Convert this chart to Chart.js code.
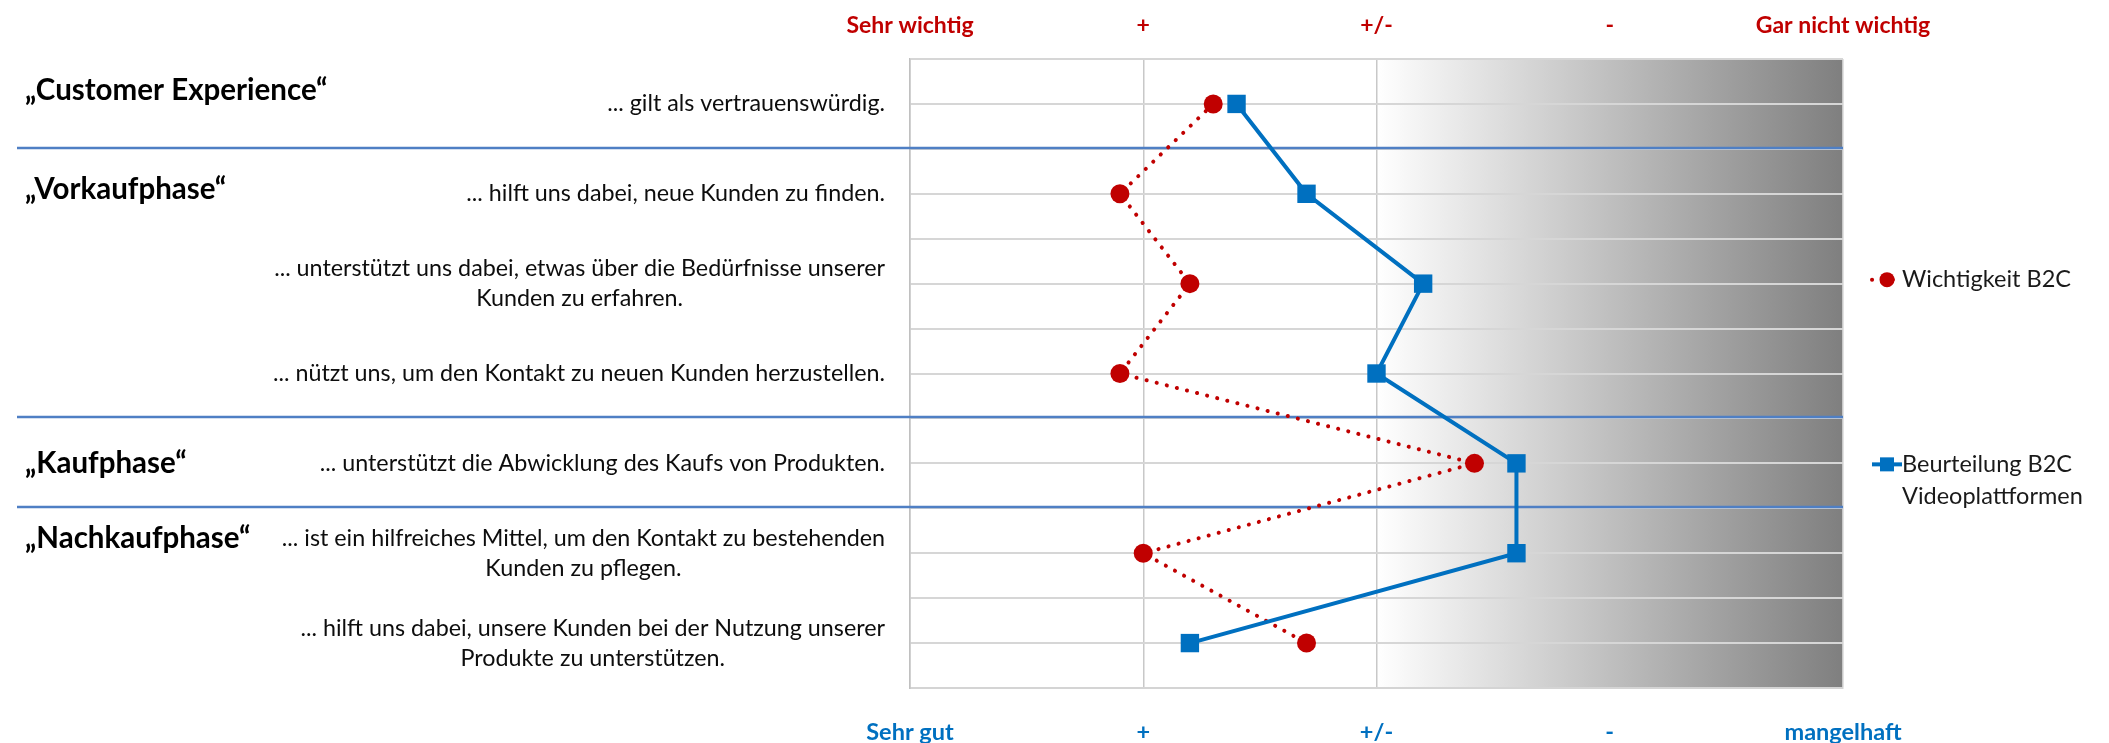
<!DOCTYPE html>
<html lang="de">
<head>
    <meta charset="UTF-8">
    <title>B2C Videoplattformen</title>
    <style>
        html, body { margin: 0; padding: 0; background: #fff; }
        #chart { display: block; }
    </style>
</head>
<body>
    <canvas id="chart" width="2109" height="743"></canvas>
    <script src="https://cdn.jsdelivr.net/npm/chart.js"></script>
    <script>
        // Aussagen, mehrzeilige als Array
        const aussagen = [
            '... gilt als vertrauenswürdig.',
            '... hilft uns dabei, neue Kunden zu finden.',
            ['... unterstützt uns dabei, etwas über die Bedürfnisse unserer', 'Kunden zu erfahren.'],
            '... nützt uns, um den Kontakt zu neuen Kunden herzustellen.',
            '... unterstützt die Abwicklung des Kaufs von Produkten.',
            ['... ist ein hilfreiches Mittel, um den Kontakt zu bestehenden', 'Kunden zu pflegen.'],
            ['... hilft uns dabei, unsere Kunden bei der Nutzung unserer', 'Produkte zu unterstützen.']
        ];
        const phasen = ['„Customer Experience“', '„Vorkaufphase“', '„Kaufphase“', '„Nachkaufphase“'];
        const phasenStart = [0, 1, 4, 5];

        // 1 = Sehr wichtig / Sehr gut ... 5 = Gar nicht wichtig / mangelhaft
        const wichtigkeit = [2.3, 1.9, 2.2, 1.9, 3.42, 2.0, 2.7];
        const beurteilung = [2.4, 2.7, 3.2, 3.0, 3.6, 3.6, 2.2];

        const skalaOben = ['Sehr wichtig', '+', '+/-', '-', 'Gar nicht wichtig'];
        const skalaUnten = ['Sehr gut', '+', '+/-', '-', 'mangelhaft'];
        const serienNamen = [['Wichtigkeit B2C'], ['Beurteilung B2C', 'Videoplattformen']];

        const ROT = '#C00000';
        const BLAU = '#0070C0';

        const punkte = werte => werte.map((v, i) => ({ x: v, y: i }));

        // Grauverlauf ab "+/-" bis zum rechten Rand
        const verlaufPlugin = {
            id: 'verlauf',
            beforeDraw(chart) {
                const { ctx, chartArea } = chart;
                const x0 = chart.scales.x.getPixelForValue(3);
                const g = ctx.createLinearGradient(x0, 0, chartArea.right, 0);
                g.addColorStop(0, '#ffffff');
                g.addColorStop(1, '#7f7f7f');
                ctx.save();
                ctx.fillStyle = g;
                ctx.fillRect(x0, chartArea.top, chartArea.right - x0, chartArea.bottom - chartArea.top);
                ctx.restore();
            }
        };

        // Trennlinien zwischen den Phasen
        const trennPlugin = {
            id: 'trenner',
            beforeDatasetsDraw(chart) {
                const { ctx, chartArea } = chart;
                const y = chart.scales.y;
                ctx.save();
                ctx.strokeStyle = '#4f7fc4';
                ctx.lineWidth = 2.5;
                phasenStart.slice(1).forEach(s => {
                    const py = Math.round(y.getPixelForValue(s - 0.5)) - 1;
                    ctx.beginPath();
                    ctx.moveTo(17, py);
                    ctx.lineTo(chartArea.right, py);
                    ctx.stroke();
                });
                ctx.restore();
            }
        };

        // Aussagen links, Phasen-Überschriften und Legende rechts
        const textPlugin = {
            id: 'texte',
            afterDraw(chart) {
                const { ctx, chartArea } = chart;
                const y = chart.scales.y;
                const zeile = 30;
                const ersteZeile = [];
                ctx.save();
                ctx.font = '23.3px Lato';
                ctx.fillStyle = '#0d0d0d';
                ctx.textAlign = 'center';
                ctx.textBaseline = 'middle';
                aussagen.forEach((a, i) => {
                    const lines = Array.isArray(a) ? a : [a];
                    const breit = Math.max(...lines.map(l => ctx.measureText(l).width));
                    const cx = chartArea.left - 25 - breit / 2;
                    const y0 = y.getPixelForValue(i) - (lines.length - 1) * zeile / 2;
                    ersteZeile[i] = y0;
                    lines.forEach((l, k) => ctx.fillText(l, cx, y0 + k * zeile));
                });

                const versatz = [-13, -4, 0, 0];
                ctx.font = 'bold 29.5px Lato';
                ctx.textAlign = 'left';
                ctx.fillStyle = '#000';
                phasen.forEach((p, k) => {
                    ctx.fillText(p, 25, ersteZeile[phasenStart[k]] + versatz[k]);
                });

                // Legende
                const lx = chartArea.right + 29;
                const tx = chartArea.right + 59;
                const ly = [y.getPixelForValue(2) - 4, y.getPixelForValue(4) + 1];
                chart.data.datasets.forEach((ds, d) => {
                    const yy = ly[d];
                    ctx.strokeStyle = ds.borderColor;
                    ctx.fillStyle = ds.borderColor;
                    ctx.lineWidth = 4;
                    ctx.setLineDash(ds.borderDash || []);
                    ctx.lineCap = ds.borderCapStyle || 'butt';
                    ctx.beginPath();
                    ctx.moveTo(lx, yy);
                    ctx.lineTo(lx + 30, yy);
                    ctx.stroke();
                    ctx.setLineDash([]);
                    if (ds.pointStyle === 'circle') {
                        ctx.beginPath();
                        ctx.arc(lx + 15, yy, 7.5, 0, Math.PI * 2);
                        ctx.fill();
                    } else {
                        ctx.fillRect(lx + 8, yy - 7, 14, 14);
                    }
                    ctx.font = '23.5px Lato';
                    ctx.fillStyle = '#1a1a1a';
                    ctx.textAlign = 'left';
                    serienNamen[d].forEach((t, k) => ctx.fillText(t, tx, yy + k * 32));
                });
                ctx.restore();
            }
        };

        new Chart(document.getElementById('chart'), {
            type: 'line',
            data: {
                datasets: [
                    {
                        label: serienNamen[0].join(' '),
                        data: punkte(wichtigkeit),
                        borderColor: ROT,
                        backgroundColor: ROT,
                        borderWidth: 4,
                        borderDash: [0.1, 10.3],
                        borderCapStyle: 'round',
                        pointStyle: 'circle',
                        pointRadius: 9.5,
                        pointBorderWidth: 0,
                        order: 1
                    },
                    {
                        label: serienNamen[1].join(' '),
                        data: punkte(beurteilung),
                        borderColor: BLAU,
                        backgroundColor: BLAU,
                        borderWidth: 4,
                        pointStyle: 'rect',
                        pointRadius: 13,
                        pointBorderWidth: 0,
                        order: 0
                    }
                ]
            },
            options: {
                responsive: false,
                animation: false,
                layout: { padding: { left: 910, right: 266, top: 0, bottom: 0 } },
                plugins: {
                    legend: { display: false },
                    tooltip: { enabled: false }
                },
                elements: { line: { tension: 0 } },
                scales: {
                    x: {
                        type: 'linear',
                        position: 'bottom',
                        min: 1, max: 5,
                        afterFit: s => { s.height = 55; },
                        ticks: {
                            stepSize: 1,
                            padding: 30,
                            color: BLAU,
                            font: { family: 'Lato', size: 23.5, weight: 'bold' },
                            callback: v => skalaUnten[v - 1]
                        },
                        grid: {
                            drawTicks: false,
                            lineWidth: 1.5,
                            color: c => (c.tick && c.tick.value === 4) ? 'rgba(0,0,0,0)' : '#c8c8c8'
                        },
                        border: { color: '#d4d4d4', width: 2 }
                    },
                    x2: {
                        type: 'linear',
                        position: 'top',
                        min: 1, max: 5,
                        afterFit: s => { s.height = 59; },
                        ticks: {
                            stepSize: 1,
                            padding: 20,
                            color: ROT,
                            font: { family: 'Lato', size: 23, weight: 'bold' },
                            callback: v => skalaOben[v - 1]
                        },
                        grid: { display: false, drawTicks: false },
                        border: { display: false }
                    },
                    y: {
                        type: 'linear',
                        reverse: true,
                        min: -0.5, max: 6.5,
                        ticks: { display: false, stepSize: 0.5 },
                        grid: { drawTicks: false, color: '#d6d6d6', lineWidth: 2 },
                        border: { color: '#c0c0c0', width: 1.5 }
                    }
                }
            },
            plugins: [verlaufPlugin, trennPlugin, textPlugin]
        });
    </script>
</body>
</html>
